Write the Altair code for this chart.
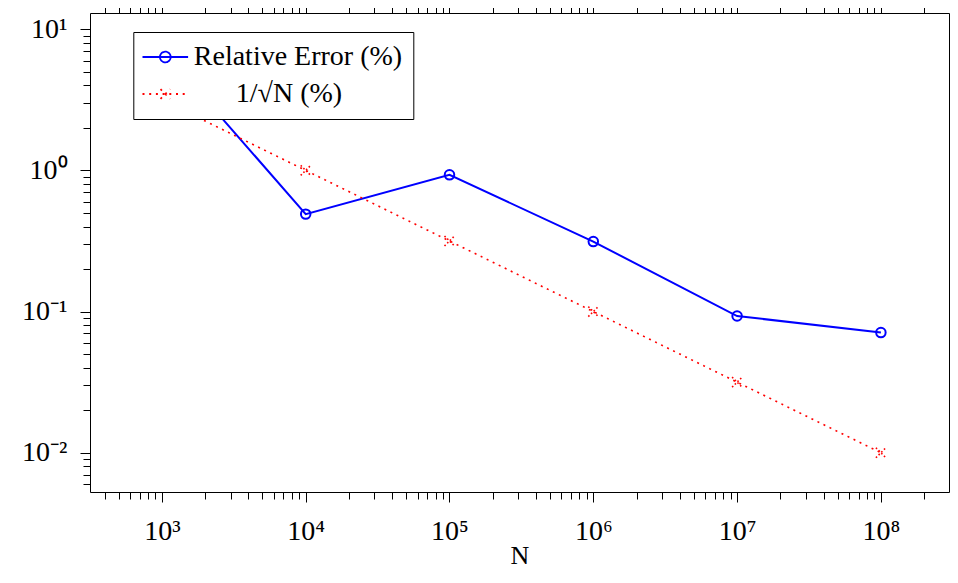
import altair as alt
import pandas as pd

# ---- data ----
N_VALUES = [1e3, 1e4, 1e5, 1e6, 1e7, 1e8]
REL_ERROR = [7.2, 0.49, 0.93, 0.313, 0.093, 0.071]
INV_SQRT = [3.162, 1.0, 0.3162, 0.1, 0.03162, 0.01]
SERIES = ["Relative Error (%)", "\u2800\u28001/\u221aN (%)"]

X_MAJOR = [1e3, 1e4, 1e5, 1e6, 1e7, 1e8]
X_LABELS = ["10\u00b3", "10\u2074", "10\u2075", "10\u2076", "10\u2077", "10\u2078"]
Y_MAJOR = [1e-2, 1e-1, 1e0, 1e1]
Y_LABELS = ["10\u207b\u00b2", "10\u207b\u00b9", "10\u2070", "10\u00b9"]

X_DOMAIN = [10 ** 2.5, 10 ** 8.4736]
Y_DOMAIN = [10 ** -2.278, 10 ** 1.1147]

X_MINOR = [m * 10 ** k for k in range(2, 9) for m in range(2, 10)
           if X_DOMAIN[0] <= m * 10 ** k <= 10 ** 8.5]
Y_MINOR = [m * 10.0 ** k for k in range(-3, 2) for m in range(2, 10)
           if Y_DOMAIN[0] <= m * 10.0 ** k <= Y_DOMAIN[1]]

rel_df = pd.DataFrame({"N": N_VALUES, "val": REL_ERROR})
sqrt_df = pd.DataFrame({"N": N_VALUES, "val": INV_SQRT})
leg_df = pd.DataFrame({"series": SERIES})

FONT = "Liberation Serif"
BLUE = "#0000ff"
RED = "#ff0000"

xs = alt.Scale(type="log", domain=X_DOMAIN, nice=False)
ys = alt.Scale(type="log", domain=Y_DOMAIN, nice=False)

x_lab_expr = "[" + ",".join("'%s'" % s for s in X_LABELS) + "][round(log(datum.value)/LN10) - 3]"
y_lab_expr = "[" + ",".join("'%s'" % s for s in Y_LABELS) + "][round(log(datum.value)/LN10) + 2]"

common = dict(grid=False, domainColor="black", tickColor="black", tickWidth=1,
              domainWidth=1, labelColor="black")

ax_bottom_major = alt.Axis(orient="bottom", values=X_MAJOR, tickSize=10,
                           labelExpr=x_lab_expr, labelFont=FONT, labelFontSize=28,
                           labelBaseline="alphabetic", labelAlign="center",
                           labelPadding=37, labelFlush=False, labelOverlap=False,
                           title="N", titleFont=FONT, titleFontSize=26,
                           titleFontWeight="normal", titleColor="black",
                           titleY=71, titleBaseline="alphabetic", **common)
ax_bottom_minor = alt.Axis(orient="bottom", values=X_MINOR, tickSize=7,
                           labels=False, domain=False, title=None, **common)
ax_top_major = alt.Axis(orient="top", values=X_MAJOR, tickSize=10,
                        labels=False, title=None, **common)
ax_top_minor = alt.Axis(orient="top", values=X_MINOR, tickSize=7,
                        labels=False, domain=False, title=None, **common)

ax_left_major = alt.Axis(orient="left", values=Y_MAJOR, tickSize=10,
                         labelExpr=y_lab_expr, labelFont=FONT, labelFontSize=28,
                         labelBaseline="middle", labelAlign="right",
                         labelPadding=13, labelFlush=False, labelOverlap=False,
                         title=None, **common)
ax_left_minor = alt.Axis(orient="left", values=Y_MINOR, tickSize=7,
                         labels=False, domain=False, title=None, **common)
ax_right_major = alt.Axis(orient="right", values=Y_MAJOR, tickSize=10,
                          labels=False, title=None, **common)
ax_right_minor = alt.Axis(orient="right", values=Y_MINOR, tickSize=7,
                          labels=False, domain=False, title=None, **common)

blue_line = alt.Chart(rel_df).mark_line(color=BLUE, strokeWidth=2).encode(
    x=alt.X("N:Q", scale=xs, axis=ax_bottom_major),
    y=alt.Y("val:Q", scale=ys, axis=ax_left_major),
)
red_line = alt.Chart(sqrt_df).mark_line(color=RED, strokeWidth=1.6,
                                        strokeDash=[2, 4.7]).encode(
    x=alt.X("N:Q", scale=xs, axis=ax_bottom_minor),
    y=alt.Y("val:Q", scale=ys, axis=ax_left_minor),
)
blue_pts = alt.Chart(rel_df).mark_point(shape="circle", filled=False, size=90,
                                        strokeWidth=2, color=BLUE, opacity=1).encode(
    x=alt.X("N:Q", scale=xs, axis=ax_top_major),
    y=alt.Y("val:Q", scale=ys, axis=ax_right_major),
)
red_pts = alt.Chart(sqrt_df).mark_point(shape="M-1,-1L1,1M-1,1L1,-1", filled=False,
                                        size=100, strokeWidth=1.6,
                                        strokeDash=[1.6, 2.2], color=RED,
                                        opacity=1).encode(
    x=alt.X("N:Q", scale=xs, axis=ax_top_minor),
    y=alt.Y("val:Q", scale=ys, axis=ax_right_minor),
)

BLUE_SYM = "M-2,0L2,0M0.47,0A0.47,0.47,0,1,1,-0.47,0A0.47,0.47,0,1,1,0.47,0"
RED_SYM = "M-2,0L2,0M-0.42,-0.42L0.42,0.42M-0.42,0.42L0.42,-0.42"

legend = alt.Legend(orient="none", legendX=43.3, legendY=19, title=None,
                    padding=11, fillColor="white", strokeColor="black",
                    cornerRadius=0, labelFont=FONT, labelFontSize=28,
                    labelColor="black", labelLimit=600, symbolSize=520,
                    symbolStrokeWidth=1.8, symbolOffset=7, labelOffset=14.5,
                    rowPadding=9, direction="vertical")

legend_layer = alt.Chart(leg_df).transform_filter("false").mark_point(
    filled=False, opacity=1).encode(
    color=alt.Color("series:N", scale=alt.Scale(domain=SERIES, range=[BLUE, RED]),
                    legend=legend),
    shape=alt.Shape("series:N", scale=alt.Scale(domain=SERIES, range=[BLUE_SYM, RED_SYM]),
                    legend=legend),
    strokeDash=alt.StrokeDash("series:N",
                              scale=alt.Scale(domain=SERIES, range=[[1, 0], [2, 4.7]]),
                              legend=legend),
)

chart = alt.layer(blue_line, red_line, blue_pts, red_pts, legend_layer).resolve_axis(
    x="independent", y="independent"
).properties(
    width=859, height=479,
    autosize=alt.AutoSizeParams(type="none"),
    padding={"left": 82, "top": 5, "right": 1, "bottom": 78},
    background="white",
).configure_view(stroke=None)

chart.save("out.html", embed_options={"renderer": "svg", "actions": False})
